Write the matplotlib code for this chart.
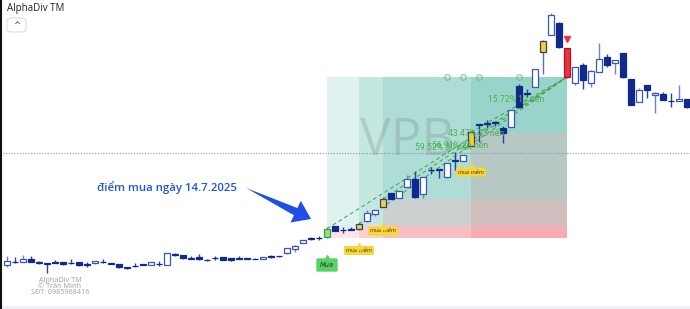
import matplotlib
matplotlib.use("Agg")
import matplotlib.pyplot as plt
import numpy as np
from matplotlib.patches import Polygon, FancyBboxPatch
from matplotlib.lines import Line2D

# ---------------- data ----------------
opens = [17.56,17.78,17.80,18.02,17.82,17.72,17.76,17.76,17.72,17.76,
         17.62,17.68,17.80,17.72,17.60,17.36,17.48,17.62,17.56,17.66,
         17.56,18.44,18.34,18.10,18.20,17.98,18.14,18.18,18.10,18.10,
         18.10,18.06,18.02,18.26,18.28,18.48,18.82,19.32,19.70,19.72,
         19.76,20.64,20.36,20.44,20.40,21.06,21.62,22.20,23.28,22.92,
         23.76,24.40,23.20,25.16,25.22,24.56,25.92,25.88,27.08,28.80,
         28.90,28.94,28.48,28.60,31.88,31.30,31.78,34.56,35.94,36.92,
         34.92,32.12,33.54,32.12,33.00,34.16,33.72,34.48,32.40,30.60,
         31.94,31.14,31.22,30.70,30.66,30.82]
highs = [18.26,18.18,18.34,18.26,17.86,17.74,17.98,17.78,18.00,17.78,
         17.76,17.90,18.04,17.74,17.62,17.40,17.68,17.64,17.78,17.86,
         18.50,18.50,18.38,18.26,18.40,18.02,18.24,18.20,18.12,18.28,
         18.12,18.08,18.20,18.38,18.30,18.90,19.10,19.58,19.82,19.86,
         20.56,20.70,20.56,20.60,21.00,21.94,21.96,23.00,23.30,23.46,
         24.74,25.08,24.58,25.40,25.24,25.70,26.58,26.36,28.22,28.82,
         29.14,29.10,28.66,29.96,32.02,31.60,33.22,35.52,37.72,36.96,
         34.94,33.38,33.68,33.12,35.28,34.42,33.96,34.50,32.42,31.68,
         31.96,31.36,31.40,31.28,31.94,30.84]
lows = [17.40,17.74,17.79,17.78,17.66,16.92,17.70,17.58,17.66,17.50,
        17.40,17.66,17.74,17.60,17.34,17.22,17.42,17.54,17.54,17.46,
        17.54,18.30,18.06,18.04,17.98,17.90,17.98,17.94,17.90,18.04,
        18.02,18.00,18.00,18.10,18.22,18.46,18.60,19.30,19.54,19.54,
        19.74,20.24,20.12,20.34,20.38,20.96,21.48,22.18,22.82,22.90,
        23.74,22.92,22.92,24.82,24.48,24.54,25.14,25.86,27.06,27.40,
        28.48,28.66,27.32,28.58,30.18,30.96,31.76,32.82,35.92,34.94,
        32.54,31.94,31.60,31.76,32.98,33.40,32.82,32.54,30.32,30.58,
        30.92,29.68,30.72,30.16,30.64,30.14]
closes = [17.88,17.77,18.00,17.78,17.70,17.64,17.70,17.60,17.67,17.52,
          17.58,17.88,17.76,17.62,17.36,17.30,17.44,17.56,17.76,17.62,
          18.46,18.38,18.08,18.06,18.00,17.94,18.10,17.96,17.92,18.06,
          18.05,18.02,18.18,18.22,18.24,18.88,19.08,19.56,19.66,19.68,
          20.44,20.26,20.32,20.38,20.82,21.72,21.94,22.80,22.84,23.44,
          24.44,22.96,24.56,25.12,25.16,25.68,25.86,26.34,28.16,28.74,
          28.85,28.90,28.08,29.94,30.20,31.25,33.20,35.48,37.54,34.96,
          32.56,33.36,32.34,33.08,34.00,33.54,33.94,32.56,30.34,31.54,
          31.54,31.32,30.74,30.66,30.82,30.16]

buy_idx = 40
add_idx = [44, 47, 58]
yellow_idx = [44, 47, 58, 67]
sell_idx = 70

# long positions: entry bar, entry price, target, stop, pct, bars
pos_start = [40, 44, 47, 58]
pos_entry = [20.44, 20.82, 22.80, 28.16]
pos_target = 32.58
pos_stop = 19.70
pos_pct = ["59.52%", "56.91%", "43.47%", "15.72%"]
pos_bars = ["30 nến", "26 nến", "23 nến", "12 nến"]
label_x = [51.0, 53.1, 55.1, 60.1]
label_y = [26.90, 27.14, 28.02, 30.82]
circle_x = [55, 57, 59, 64]
hline_price = 26.52

# ---------------- figure ----------------
W, H = 690, 309
fig = plt.figure(figsize=(W / 100, H / 100), dpi=100)
ax = fig.add_axes([0, 0, 1, 1])
ax.set_xlim(-0.875, 85.375)
ax.set_ylim(14.02, 38.74)
ax.axis('off')

n = len(opens)
x = np.arange(n)

teal = (8/255, 153/255, 129/255)
pink = (242/255, 54/255, 69/255)

# position boxes
for s, e in zip(pos_start, pos_entry):
    ax.fill_between([s, sell_idx], e, pos_target, color=teal, alpha=0.12, lw=0, zorder=1)
    ax.fill_between([s, sell_idx], pos_stop, e, color=pink, alpha=0.12, lw=0, zorder=1)
    ax.plot([s, sell_idx], [e, pos_target], ls=(0, (4, 3)), color='#43a047', lw=0.7, zorder=2)

# bottom light strip
ax.axhspan(14.02, 14.30, color='#eef0f3', lw=0, zorder=0)

# watermark
ax.text(50, 27.4, "VPB", fontsize=37, color='#7f8c8a', alpha=0.3, ha='center', va='center',
        family='Open Sans', zorder=1.5)

# dotted price line
ax.axhline(hline_price, color='#8a90a6', lw=0.8, ls=(0, (1, 1.5)), zorder=2)

# candles
navy = '#0f2a8a'
edge_up = '#3a56b8'
wick_up = '#6f84c8'
w = 0.66
for i in range(n):
    o, h, l, c = opens[i], highs[i], lows[i], closes[i]
    up = c >= o
    if i == buy_idx:
        fc, ec, wc = '#8fe08f', '#3a9d3a', '#3a9d3a'
    elif i in yellow_idx:
        fc, ec, wc = '#f7d21e', '#2c3f8f', '#5a6fb8'
    elif i == sell_idx:
        fc, ec, wc = '#f0323f', '#a81525', '#a81525'
    elif up:
        fc, ec, wc = 'white', edge_up, wick_up
    else:
        fc, ec, wc = navy, navy, '#2a42a0'
    ax.vlines(i, l, h, color=wc, lw=1.0, zorder=3)
    bot = min(o, c)
    ht = max(abs(c - o), 0.02)
    ax.bar(i, ht, bottom=bot, width=w, color=fc, edgecolor=ec, lw=0.9, zorder=4)

# percent labels
for px_, py_, p, b in zip(label_x, label_y, pos_pct, pos_bars):
    ax.text(px_, py_, p + " " + b, fontsize=6.2, color='#4caf50', ha='left', va='center',
            family='Roboto', zorder=5)

# little circle icons on target edge
ax.plot(circle_x, [pos_target] * len(circle_x), ls='none', marker='o', ms=4,
        mfc='none', mec='#6cbf8a', mew=0.7, zorder=5)

# sell marker
ax.plot(sell_idx, 35.62, marker='v', ms=4.5, color='#f0323f', ls='none', zorder=5)

# tags
def tag(xi, yc, text, fc, fs, tri_dy, pad):
    ax.text(xi, yc, text, fontsize=fs, color='#333333', ha='center', va='center', zorder=6,
            family='DejaVu Sans', style='italic',
            bbox=dict(boxstyle='round,pad=%s,rounding_size=0.2' % pad, fc=fc, ec='none'))
    ax.plot(xi, yc + tri_dy, marker='^', ms=4, color=fc, ls='none', zorder=6)

tag(buy_idx, 17.54, "Mua", '#55d365', 4.8, 0.55, 0.55)
tag(add_idx[0], 18.70, "mua thêm", '#f9d537', 3.6, 0.40, 0.4)
tag(add_idx[1], 20.26, "mua thêm", '#f9d537', 3.6, 0.40, 0.4)
tag(add_idx[2], 24.98, "mua thêm", '#f9d537', 3.6, 0.40, 0.4)

# annotation text + arrow
ax.text(20.0, 23.74, "điểm mua ngày 14.7.2025", fontsize=8.2, color='#1f55e6',
        ha='center', va='center', family='Open Sans', fontweight='semibold', zorder=6)

fig.canvas.draw()
T = np.array(ax.transData.transform((29.9, 23.70)))
P = np.array(ax.transData.transform((38.0, 21.22)))
d = (P - T) / np.linalg.norm(P - T)
nv = np.array([-d[1], d[0]])
B = P - 17 * d
pts = [T, B + 4.0 * nv, B + 12 * nv, P, B - 12 * nv, B - 4.0 * nv]
arrow = Polygon(pts, closed=True, transform=None, fc='#1f4fe6', ec='none', zorder=7)
fig.add_artist(arrow)

# top-left title and button
fig.text(7 / W, 1 - 8 / H, "AlphaDiv TM", fontsize=7, color='#1e222d', ha='left', va='center',
         family='Open Sans')
btn = FancyBboxPatch((7 / W, 1 - 32 / H), 19 / W, 14 / H,
                     boxstyle='round,pad=0,rounding_size=0.008', transform=fig.transFigure,
                     fc='white', ec='#d6d9e0', lw=0.7)
fig.add_artist(btn)
fig.text(16.5 / W, 1 - 25 / H, "^", fontsize=6, color='#333', ha='center', va='center')

# bottom-left credits
for k, line in enumerate(["AlphaDiv TM", "© Trần Minh", "SĐT: 0985968416"]):
    fig.text(60 / W, 1 - (280 + 6.5 * k) / H, line, fontsize=5.2, color='#9aa0aa',
             ha='center', va='center', family='Open Sans')

# left border
fig.add_artist(Line2D([1 / W, 1 / W], [0, 1], transform=fig.transFigure, color='#111', lw=1.5))

fig.savefig("out.png", dpi=100)
